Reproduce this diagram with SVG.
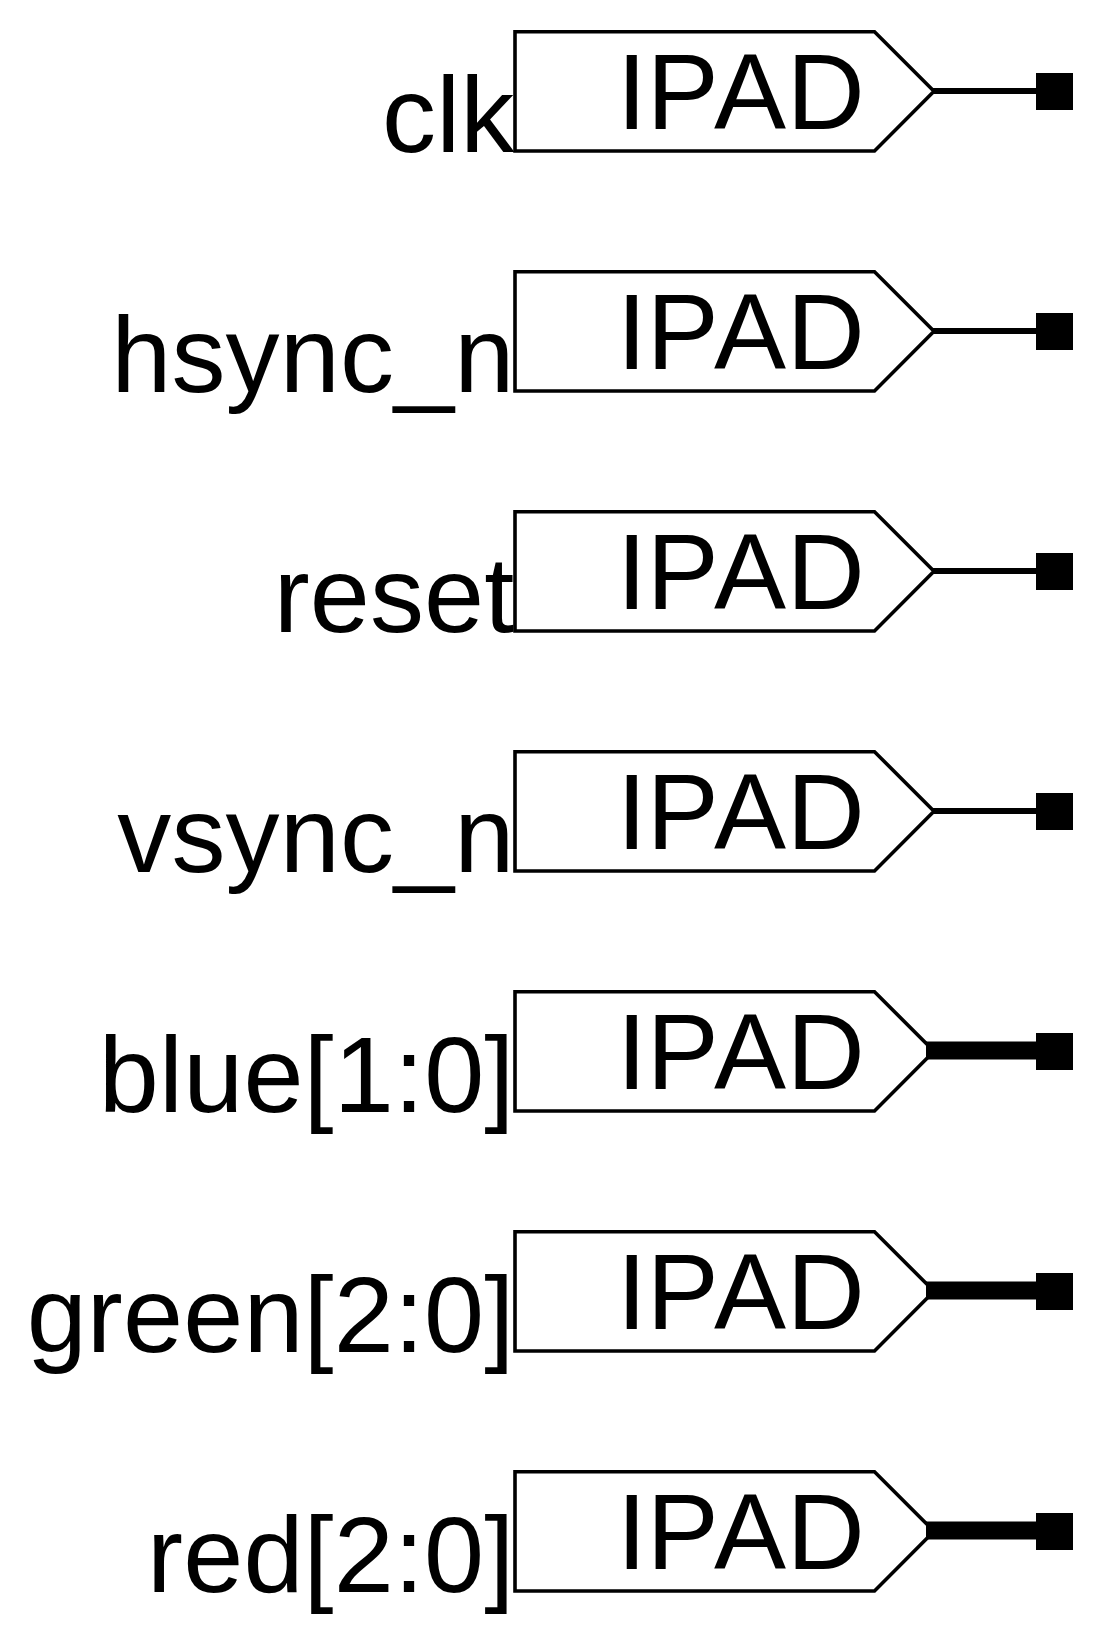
<svg xmlns="http://www.w3.org/2000/svg" width="1095" height="1646" viewBox="0 0 1095 1646">
<style>
.bg{fill:#fff}
.pad{fill:#fff;stroke:#000;stroke-width:3.6;stroke-linejoin:miter}
.t{font-family:"Liberation Sans",Arial,sans-serif;font-size:108px;fill:#000}
.lbl{text-anchor:end;letter-spacing:.15px}
.w{stroke:#000;stroke-width:6.2;stroke-linecap:square;fill:none}
.wb{stroke:#000;stroke-width:18;stroke-linecap:square;fill:none}
.pin{fill:#000}
</style>
<rect class="bg" width="1095" height="1646"/>
<g id="connectors">
<line class="w" x1="935" y1="91" x2="1036" y2="91"/>
<line class="w" x1="935" y1="331" x2="1036" y2="331"/>
<line class="w" x1="935" y1="571" x2="1036" y2="571"/>
<line class="w" x1="935" y1="811" x2="1036" y2="811"/>
</g>
<g id="clk"><path class="pad" d="M515 31.7H874.5L934 91.3L874.5 151H515Z"/><text class="t" x="616.7 646.8 714.1 786.8" y="128.7">IPAD</text><text class="t lbl" x="514.5" y="151.7">clk</text><rect class="pin" x="1036" y="73" width="37" height="37"/></g>
<g id="hsync_n"><path class="pad" d="M515 271.7H874.5L934 331.3L874.5 391H515Z"/><text class="t" x="616.7 646.8 714.1 786.8" y="368.7">IPAD</text><text class="t lbl" x="514.5" y="391.7">hsync_n</text><rect class="pin" x="1036" y="313" width="37" height="37"/></g>
<g id="reset"><path class="pad" d="M515 511.7H874.5L934 571.3L874.5 631H515Z"/><text class="t" x="616.7 646.8 714.1 786.8" y="608.7">IPAD</text><text class="t lbl" x="514.5" y="631.7">reset</text><rect class="pin" x="1036" y="553" width="37" height="37"/></g>
<g id="vsync_n"><path class="pad" d="M515 751.7H874.5L934 811.3L874.5 871H515Z"/><text class="t" x="616.7 646.8 714.1 786.8" y="848.7">IPAD</text><text class="t lbl" x="514.5" y="871.7">vsync_n</text><rect class="pin" x="1036" y="793" width="37" height="37"/></g>
<g id="blue"><path class="pad" d="M515 991.7H874.5L934 1051.3L874.5 1111H515Z"/><text class="t" x="616.7 646.8 714.1 786.8" y="1088.7">IPAD</text><text class="t lbl" x="514.5" y="1111.7">blue[1:0]</text><rect class="pin" x="1036" y="1033" width="37" height="37"/></g>
<g id="green"><path class="pad" d="M515 1231.7H874.5L934 1291.3L874.5 1351H515Z"/><text class="t" x="616.7 646.8 714.1 786.8" y="1328.7">IPAD</text><text class="t lbl" x="514.5" y="1351.7">green[2:0]</text><rect class="pin" x="1036" y="1273" width="37" height="37"/></g>
<g id="red"><path class="pad" d="M515 1471.7H874.5L934 1531.3L874.5 1591H515Z"/><text class="t" x="616.7 646.8 714.1 786.8" y="1568.7">IPAD</text><text class="t lbl" x="514.5" y="1591.7">red[2:0]</text><rect class="pin" x="1036" y="1513" width="37" height="37"/></g>
<g id="bus-connectors">
<line class="wb" x1="935" y1="1050.5" x2="1036" y2="1050.5"/>
<line class="wb" x1="935" y1="1290.5" x2="1036" y2="1290.5"/>
<line class="wb" x1="935" y1="1530.5" x2="1036" y2="1530.5"/>
</g>
</svg>
